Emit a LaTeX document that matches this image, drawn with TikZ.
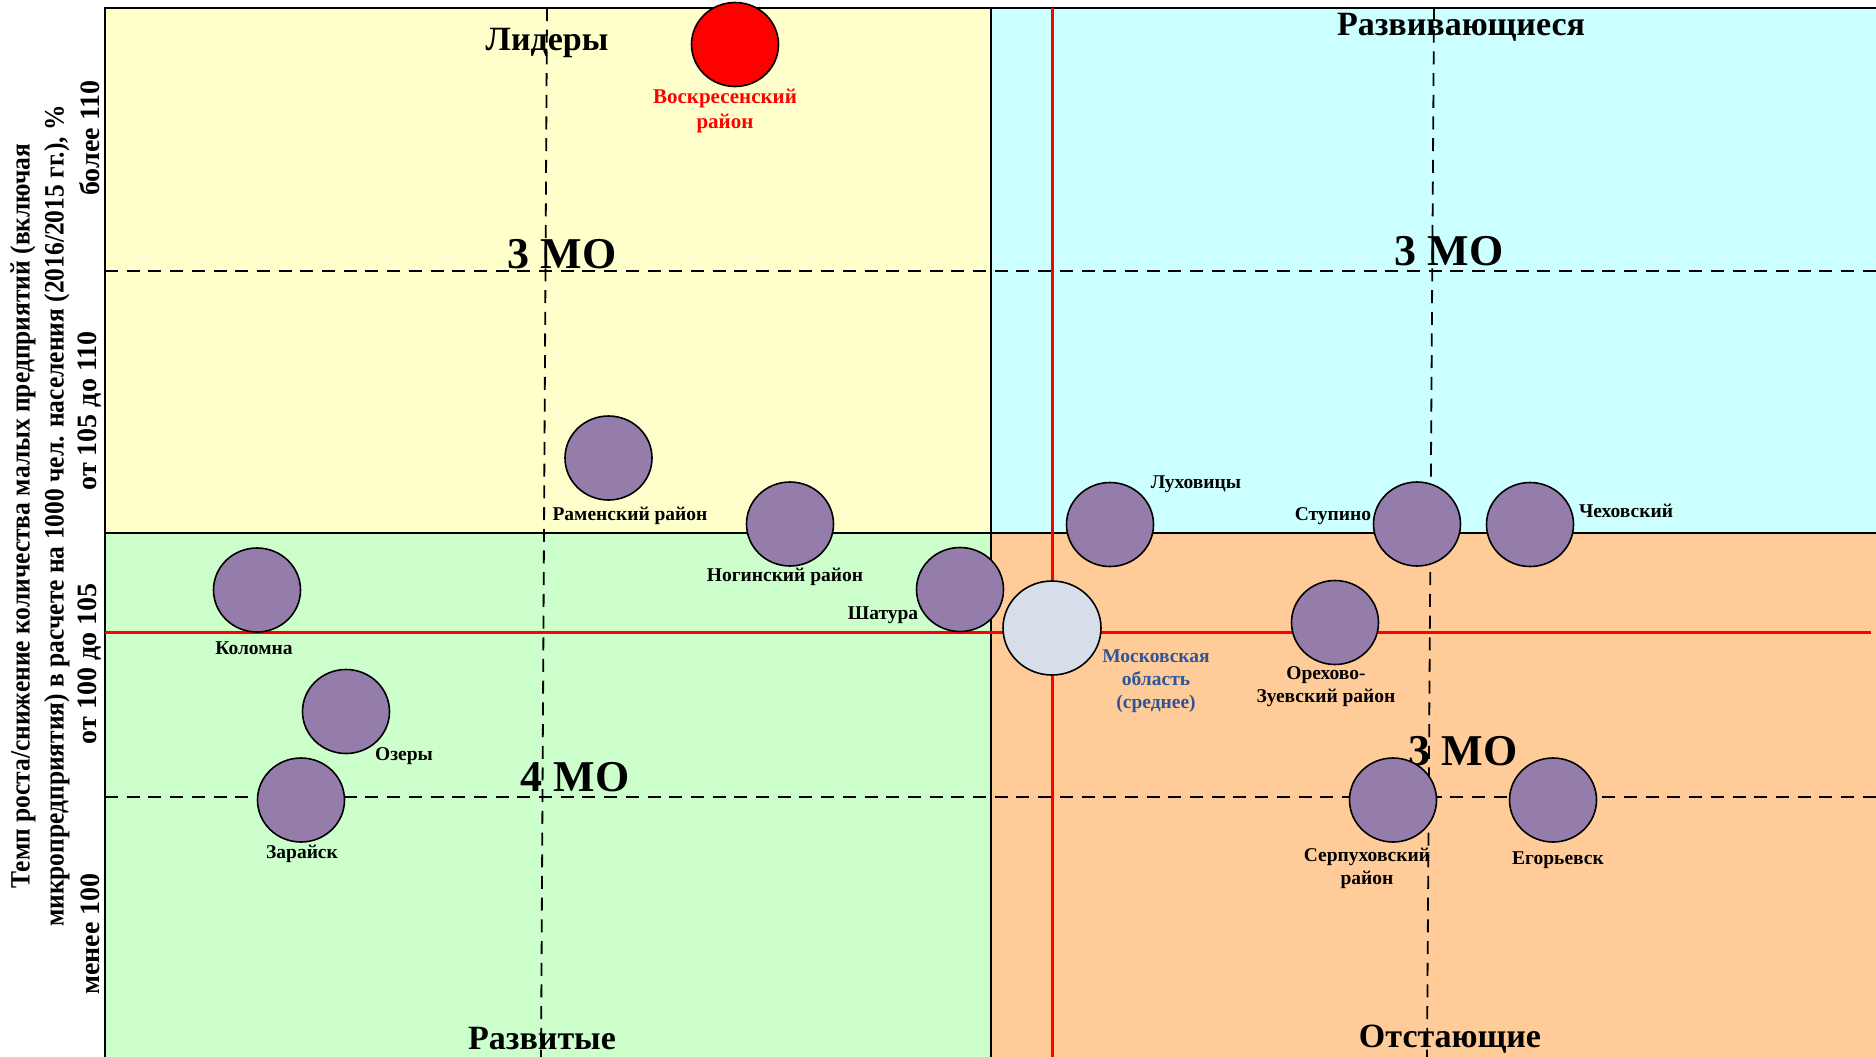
\documentclass[tikz,border=0pt]{standalone}
\usepackage{fontspec}
\setmainfont{Liberation Serif}
\usetikzlibrary{shapes.geometric}
\definecolor{yel}{RGB}{255,255,204}
\definecolor{cya}{RGB}{204,255,255}
\definecolor{grn}{RGB}{204,255,204}
\definecolor{org}{RGB}{255,204,153}
\definecolor{purp}{RGB}{148,125,171}
\definecolor{msk}{RGB}{214,222,234}
\definecolor{mskblue}{RGB}{47,85,151}
\newcommand{\axsq}[1]{\scalebox{0.91}[1]{#1}}
\begin{document}
\begin{tikzpicture}[x=1pt,y=-1pt,
  dot/.style={ellipse, draw=black, line width=1.6pt, fill=purp, minimum width=87pt, minimum height=84pt, inner sep=0pt},
  lbl/.style={font=\fontsize{19.5}{23}\selectfont\bfseries, inner sep=0pt, align=center},
  ttl/.style={font=\fontsize{34}{38}\selectfont\bfseries, inner sep=0pt},
  cnt/.style={font=\fontsize{44}{48}\selectfont\bfseries, inner sep=0pt},
  axl/.style={font=\fontsize{28}{32}\selectfont\bfseries, inner sep=0pt, rotate=90},
  dsh/.style={line width=1.8pt, dash pattern=on 13pt off 8.7pt},
  bord/.style={line width=2pt},
  redl/.style={red, line width=3pt}]
\useasboundingbox (0,0) rectangle (1876,1057);
\fill[white] (0,0) rectangle (1876,1057);
% quadrants
\fill[yel] (105,8) rectangle (991,533);
\fill[cya] (991,8) rectangle (1876,533);
\fill[grn] (105,533) rectangle (991,1057);
\fill[org] (991,533) rectangle (1876,1057);
% titles
\node[ttl] (t1) at (547,43) {Лидеры};
\node[ttl] (t2) at (1461,27) {Развивающиеся};
\node[ttl] (t3) at (542,1039) {Развитые};
\node[ttl] (t4) at (1450,1039) {Отстающие};
\node[cnt] (c1) at (562,254) {3 МО};
\node[cnt] (c2) at (1449,251) {3 МО};
\node[cnt] (c3) at (575,777) {4 МО};
\node[cnt] (c4) at (1463,751) {3 МО};
% dashed grid
\coordinate (h1a) at (105,271); \coordinate (h1b) at (1876,271);
\coordinate (h2a) at (105,797); \coordinate (h2b) at (1876,797);
\coordinate (v1a) at (547,8); \coordinate (v1b) at (541,1057);
\coordinate (v2a) at (1434,8); \coordinate (v2b) at (1427,1057);
\draw[dsh] (h1a) -- (h1b);
\draw[dsh] (h2a) -- (h2b);
\draw[dsh] (v1a) -- (v1b);
\draw[dsh] (v2a) -- (v2b);
% borders
\coordinate (tl) at (105,8); \coordinate (tr) at (1876,8);
\coordinate (bl) at (105,1057);
\coordinate (mt) at (991,8); \coordinate (mb) at (991,1057);
\coordinate (ml) at (105,533); \coordinate (mr) at (1876,533);
\draw[bord] (bl) -- (tl) -- (tr);
\draw[bord] (mt) -- (mb);
\draw[line width=2.5pt] (ml) -- (mr);
% red average lines
\coordinate (rv1) at (1052,8); \coordinate (rv2) at (1052,1057);
\coordinate (rh1) at (105,632); \coordinate (rh2) at (1871,632);
\draw[redl] (rv1) -- (rv2);
\draw[redl] (rh1) -- (rh2);
% circles
\node[dot, fill=red] (vos) at (735,44.5) {};
\node[dot] (ram) at (608.5,458) {};
\node[dot] (nog) at (790,524) {};
\node[dot] (shat) at (960,589.5) {};
\node[dot, fill=msk, minimum width=98pt, minimum height=94pt] (mo) at (1052,628) {};
\node[dot] (luh) at (1110,524.5) {};
\node[dot] (stup) at (1417,524) {};
\node[dot] (chek) at (1530,524.5) {};
\node[dot] (orek) at (1335,622.5) {};
\node[dot] (serp) at (1393,800) {};
\node[dot] (egor) at (1553,800) {};
\node[dot] (kol) at (257,590) {};
\node[dot] (oze) at (346,711.5) {};
\node[dot] (zar) at (301,800) {};
% labels
\node[lbl, text=red, font=\fontsize{21}{25}\selectfont\bfseries] (vosl) at (725,111) {Воскресенский\\район};
\node[lbl] (raml) at (630,516) {Раменский район};
\node[lbl] (nogl) at (785,577) {Ногинский район};
\node[lbl] (shatl) at (883,615) {Шатура};
\node[lbl, text=mskblue] (mol) at (1156,681) {Московская\\область\\(среднее)};
\node[lbl] (luhl) at (1196,484) {Луховицы};
\node[lbl] (stupl) at (1333,516) {Ступино};
\node[lbl] (chekl) at (1626,511) {Чеховский};
\node[lbl] (orekl) at (1326,687) {Орехово-\\Зуевский район};
\node[lbl] (serpl) at (1367,868) {Серпуховский\\район};
\node[lbl] (egorl) at (1558,860) {Егорьевск};
\node[lbl] (koll) at (254,648) {Коломна};
\node[lbl] (ozel) at (404,756) {Озеры};
\node[lbl] (zarl) at (302,854) {Зарайск};
% axis text
\node[axl] (ax1) at (23,516) {\axsq{Темп роста/снижение количества малых предприятий (включая}};
\node[axl] (ax2) at (57,516) {\axsq{микропредприятия) в расчете на 1000 чел. населения (2016/2015 гг.), \%}};
\node[axl] (ax3) at (90,138) {более 110};
\node[axl] (ax4) at (90,411) {от 105 до 110};
\node[axl] (ax5) at (90,664) {от 100 до 105};
\node[axl] (ax6) at (90,934) {менее 100};
\end{tikzpicture}
\end{document}
